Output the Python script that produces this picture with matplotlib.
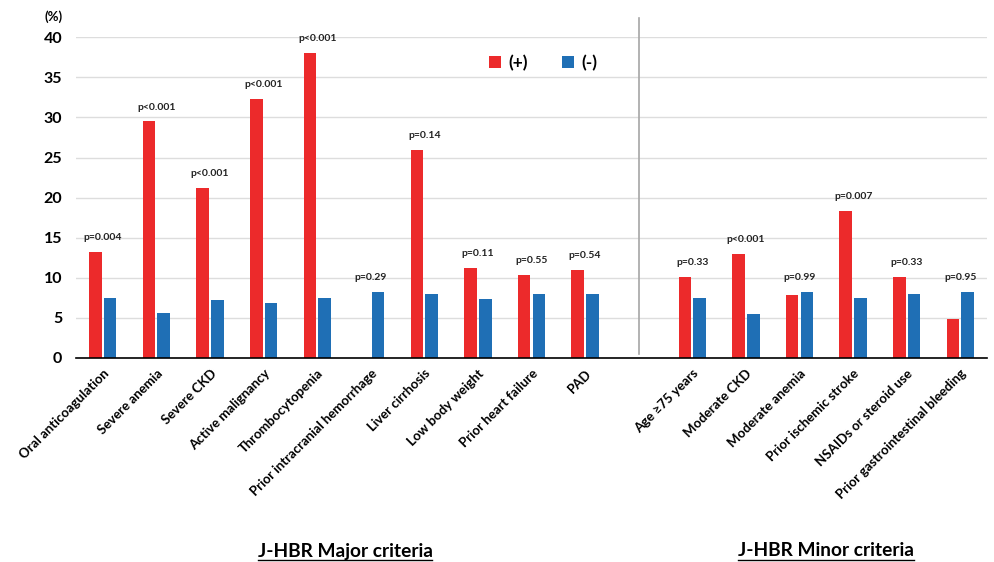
import matplotlib
matplotlib.use("Agg")
import matplotlib.pyplot as plt
import numpy as np

plt.rcParams['font.family'] = ['Lato', 'DejaVu Sans']
plt.rcParams['font.weight'] = 'bold'

major_labels = ["Oral anticoagulation", "Severe anemia", "Severe CKD", "Active malignancy",
                "Thrombocytopenia", "Prior intracranial hemorrhage", "Liver cirrhosis",
                "Low body weight", "Prior heart failure", "PAD"]
minor_labels = ["Age \u226575 years", "Moderate CKD", "Moderate anemia",
                "Prior ischemic stroke", "NSAIDs or steroid use", "Prior gastrointestinal bleeding"]

major_pos = [13.2, 29.5, 21.2, 32.3, 38.0, 0.0, 25.9, 11.2, 10.3, 11.0]
major_neg = [7.5, 5.6, 7.2, 6.8, 7.4, 8.2, 7.9, 7.3, 8.0, 8.0]
minor_pos = [10.1, 13.0, 7.8, 18.35, 10.1, 4.8]
minor_neg = [7.4, 5.4, 8.2, 7.4, 8.0, 8.2]

major_p = ["p=0.004", "p<0.001", "p<0.001", "p<0.001", "p<0.001", "p=0.29",
           "p=0.14", "p=0.11", "p=0.55", "p=0.54"]
minor_p = ["p=0.33", "p<0.001", "p=0.99", "p=0.007", "p=0.33", "p=0.95"]

yticks = [0, 5, 10, 15, 20, 25, 30, 35, 40]

RED = "#EC2A2B"
BLUE = "#1F6FB5"

fig = plt.figure(figsize=(9.95, 5.62), dpi=100)
ax = fig.add_axes([0.0764, 0.3635, 0.9156, 0.570])

n_major = len(major_labels)
x_major = np.arange(n_major)
x_minor = np.arange(len(minor_labels)) + n_major + 1
x_all = np.concatenate([x_major, x_minor])
pos_all = major_pos + minor_pos
neg_all = major_neg + minor_neg
p_all = major_p + minor_p
labels_all = major_labels + minor_labels

w = 0.235
off = 0.137
ax.bar(x_all - off, pos_all, width=w, color=RED, label="(+)", zorder=3)
ax.bar(x_all + off, neg_all, width=w, color=BLUE, label="(-)", zorder=3)

for x, a, b, t in zip(x_all, pos_all, neg_all, p_all):
    ax.text(x, max(a, b) + 1.8, t, ha='center', va='center', fontsize=7.5,
            fontweight='bold', color='#222222')

ax.set_xlim(-0.5, x_all[-1] + 0.5)
ax.set_ylim(0, 40)
ax.set_yticks(yticks)
ax.set_yticklabels([str(v) for v in yticks], fontsize=11.5, fontweight='bold')
ax.yaxis.grid(True, color='#DDDDDD', linewidth=1.0, zorder=0)
ax.set_axisbelow(True)
ax.tick_params(axis='y', length=0, pad=10)
ax.tick_params(axis='x', length=0, pad=7)
for s in ['top', 'right', 'left']:
    ax.spines[s].set_visible(False)
ax.spines['bottom'].set_color('black')
ax.spines['bottom'].set_linewidth(1.2)
ax.spines['bottom'].set_zorder(4)

ax.set_xticks(x_all)
ax.set_xticklabels(labels_all, rotation=45, ha='right', va='top',
                   rotation_mode='anchor', fontsize=9.5, fontweight='bold')

# separator between major and minor criteria
ax.plot([n_major, n_major], [0.45, 42.4], color='#A6A6A6', linewidth=1.2,
        clip_on=False, zorder=2)

fig.text(54 / 995, 1 - 17 / 562, "(%)", ha='center', va='center',
         fontsize=9.5, fontweight='bold')

leg = ax.legend(loc='upper left', bbox_to_anchor=(0.436, 0.995), ncol=2, frameon=False,
                prop={'size': 12.5, 'weight': 'bold'}, handlelength=0.7, handleheight=0.7,
                columnspacing=2.0, handletextpad=0.4)

# group titles with underline
titles = [("J-HBR Major criteria", 345), ("J-HBR Minor criteria", 826)]
fig.canvas.draw()
renderer = fig.canvas.get_renderer()
for txt, px in titles:
    t = fig.text(px / 995, 1 - 551 / 562, txt, ha='center', va='center',
                 fontsize=13.8, fontweight='bold')
    bb = t.get_window_extent(renderer=renderer)
    yline = bb.y0
    fig.add_artist(plt.Line2D([bb.x0 / fig.bbox.width, bb.x1 / fig.bbox.width],
                              [yline / fig.bbox.height, yline / fig.bbox.height],
                              color='black', linewidth=1.0))

fig.savefig("out.png", dpi=100)
